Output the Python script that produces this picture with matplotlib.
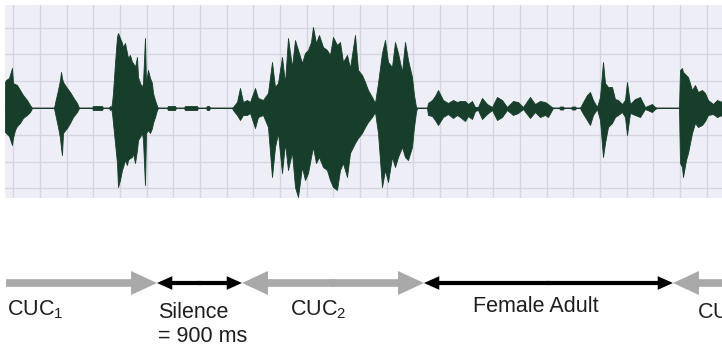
import matplotlib.pyplot as plt
import numpy as np

plt.rcParams['font.family'] = ['Liberation Sans', 'DejaVu Sans']
plt.rcParams['mathtext.default'] = 'regular'

W, H = 722, 346
WAVE_COLOR = '#173d2b'
PANEL_BG = '#eeeef7'
GRID_COLOR = '#d5d5e1'
GRAY = '#a9a9a9'

# waveform envelope, x in pixel-like units, amplitude relative to baseline
wave_x = [5, 6, 9, 12, 13, 15, 17, 20, 23, 27, 30, 32,
          54, 55, 58, 60, 61, 62, 63, 67, 70, 73, 77, 79,
          92, 93, 102, 103,
          109, 110, 111, 112, 113, 115, 117, 118, 120, 122, 123, 125, 127, 128, 130,
          132, 133, 135, 137, 138, 140, 142, 143, 145, 146, 148, 150, 152, 153,
          155, 157, 158,
          167, 168, 175, 176, 184, 185, 197, 198, 206, 207, 209, 210,
          232, 233, 237, 240, 243, 247, 250, 255, 258, 263, 268, 272, 275, 278,
          282, 285, 288, 292, 295, 298, 302, 305, 308, 311, 313, 316, 319, 323,
          327, 330, 333, 337, 340, 343, 347, 350, 355, 358, 362, 365, 368, 372,
          375, 378, 382, 385, 388, 392, 395, 398, 402, 405, 408, 412, 414, 416, 417,
          427, 428, 432, 435, 438, 443, 448, 453, 457, 460, 465, 468, 472, 475,
          478, 482, 487, 492, 497, 502, 507, 513, 518, 523, 530, 535, 540, 545,
          548, 553,
          559, 560, 563, 564, 571, 572, 575, 576,
          580, 582, 587, 590, 593, 597, 600, 603, 605, 608, 612, 615, 618, 622,
          625, 627, 630, 635, 640, 645, 652, 655, 657,
          679, 680, 682, 683, 686, 688, 692, 695, 698, 702, 705, 708, 713, 717, 722]
wave_top = [26, 28, 30, 40, 25, 24, 23, 18, 13, 8, 3, 0,
            0, 5, 18, 28, 36, 30, 26, 20, 16, 11, 5, 0,
            0, 2, 2, 0,
            0, 2, 0, 5, 15, 45, 71, 75, 70, 65, 61, 65, 55, 50, 53,
            46, 45, 41, 51, 31, 25, 21, 25, 70, 25, 38, 30, 25, 15,
            8, 2, 0,
            0, 2, 2, 0, 0, 2, 2, 0, 0, 2, 2, 0,
            0, 1, 6, 20, 6, 8, 6, 20, 10, 8, 15, 46, 21, 25,
            51, 25, 70, 41, 68, 58, 45, 55, 58, 66, 81, 65, 73, 61,
            58, 53, 71, 63, 66, 46, 53, 40, 73, 38, 33, 26, 18, 11,
            5, 25, 55, 68, 46, 41, 66, 55, 36, 66, 48, 31, 13, 1, 0,
            0, 5, 8, 12, 18, 8, 5, 8, 6, 7, 7, 4, 7, 1,
            1, 10, 4, 1, 11, 8, 1, 7, 6, 1, 11, 4, 7, 6,
            4, 0,
            0, 1.5, 1.5, 0, 0, 1.5, 1.5, 0,
            0, 4, 13, 16, 8, 1, 11, 46, 25, 21, 21, 9, 8, 4,
            8, 26, 4, 9, 11, 1, 4, 1, 0,
            0, 38, 40, 36, 33, 31, 18, 23, 16, 18, 15, 8, 4, 8, 6]
wave_bottom = [-24, -25, -28, -37, -30, -22, -18, -15, -10, -7, -4, 0,
               0, -5, -19, -30, -40, -47, -25, -20, -15, -9, -4, 0,
               0, -2, -2, 0,
               0, -2, 0, -5, -15, -35, -55, -79, -72, -62, -59, -52, -57, -52, -50,
               -49, -45, -55, -42, -32, -29, -25, -32, -77, -25, -22, -25, -20, -15,
               -9, -2, 0,
               0, -2, -2, 0, 0, -2, -2, 0, 0, -2, -2, 0,
               0, -2, -7, -12, -7, -7, -5, -20, -9, -7, -19, -69, -39, -25,
               -65, -35, -62, -44, -79, -89, -59, -72, -65, -49, -39, -55, -49, -59,
               -62, -72, -79, -82, -62, -55, -69, -45, -35, -30, -25, -19, -14, -9,
               -4, -25, -79, -62, -74, -49, -59, -49, -39, -49, -52, -39, -19, -4, 0,
               0, -7, -8, -12, -17, -9, -6, -10, -7, -9, -13, -8, -11, -3,
               -2, -11, -6, -2, -12, -9, -2, -7, -5, -1, -10, -4, -9, -7,
               -9, 0,
               0, -1.5, -1.5, 0, 0, -1.5, -1.5, 0,
               0, -4, -12, -17, -7, -1, -12, -49, -35, -19, -15, -9, -7, -4,
               -9, -27, -5, -7, -9, -1, -4, -1, 0,
               0, -55, -59, -69, -52, -45, -25, -15, -19, -17, -13, -7, -6, -9, -7]

# segments under the waveform: boundaries, label, colour, heads
seg_edges = [6, 157, 242, 424, 673, 735]
seg_labels = ['CUC$_1$', 'Silence\n= 900 ms', 'CUC$_2$', 'Female Adult', 'CUC$_3$']
seg_colors = [GRAY, 'black', GRAY, 'black', GRAY]
seg_heads = [(False, True), (True, True), (True, True), (True, True), (True, False)]
label_x = [7, 158, 290, 536, 697]
label_ha = ['left', 'left', 'left', 'center', 'left']
label_base = [315, 342, 315, 312, 318]  # baseline of the last line

ARROW_Y = 283


def arrow(ax, x_from, x_to, color):
    if color == GRAY:
        style = 'simple,head_length=1.87,head_width=1.73,tail_width=0.55'
    else:
        style = 'simple,head_length=1.1,head_width=0.98,tail_width=0.3'
    ax.annotate('', xy=(x_to, ARROW_Y), xytext=(x_from, ARROW_Y),
                annotation_clip=False,
                arrowprops=dict(arrowstyle=style, mutation_scale=10, color=color,
                                lw=0, shrinkA=0, shrinkB=0))


fig = plt.figure(figsize=(W / 100, H / 100), dpi=100)

ax = fig.add_axes([5 / W, 1 - 198 / H, 717 / W, 193 / H])
ax.set_facecolor(PANEL_BG)
ax.set_xlim(5, 722)
ax.set_ylim(-90, 103)
ax.set_xticks(np.arange(13.3, 722, 26.67))
ax.set_yticks(np.arange(-80.4, 100, 26.8))
ax.grid(True, color=GRID_COLOR, lw=1)
ax.tick_params(length=0, labelbottom=False, labelleft=False)
for s in ax.spines.values():
    s.set_visible(False)
ax.set_axisbelow(True)

ax.plot([5, 722], [0, 0], color='#8a8a8a', lw=1.2, zorder=2)
ax.fill_between(wave_x, wave_bottom, wave_top, color=WAVE_COLOR, lw=0.6,
                edgecolor=WAVE_COLOR, zorder=3)

lab = fig.add_axes([0, 0, 1, 1], zorder=-1)
lab.set_xlim(0, W)
lab.set_ylim(H, 0)
lab.axis('off')

for i, (label, color, heads) in enumerate(zip(seg_labels, seg_colors, seg_heads)):
    x0, x1 = seg_edges[i], seg_edges[i + 1]
    mid = (x0 + x1) / 2
    if heads[0] and heads[1]:
        # two halves, overlapping a little so no seam shows
        arrow(lab, mid + 2, x0, color)
        arrow(lab, mid - 2, x1, color)
    elif heads[1]:
        arrow(lab, x0, x1, color)
    else:
        arrow(lab, x1, x0, color)
    lab.text(label_x[i], label_base[i], label, ha=label_ha[i], va='baseline',
             fontsize=15.5, color='#1e1e1e', linespacing=1.2)

fig.savefig('out.png', dpi=100)
